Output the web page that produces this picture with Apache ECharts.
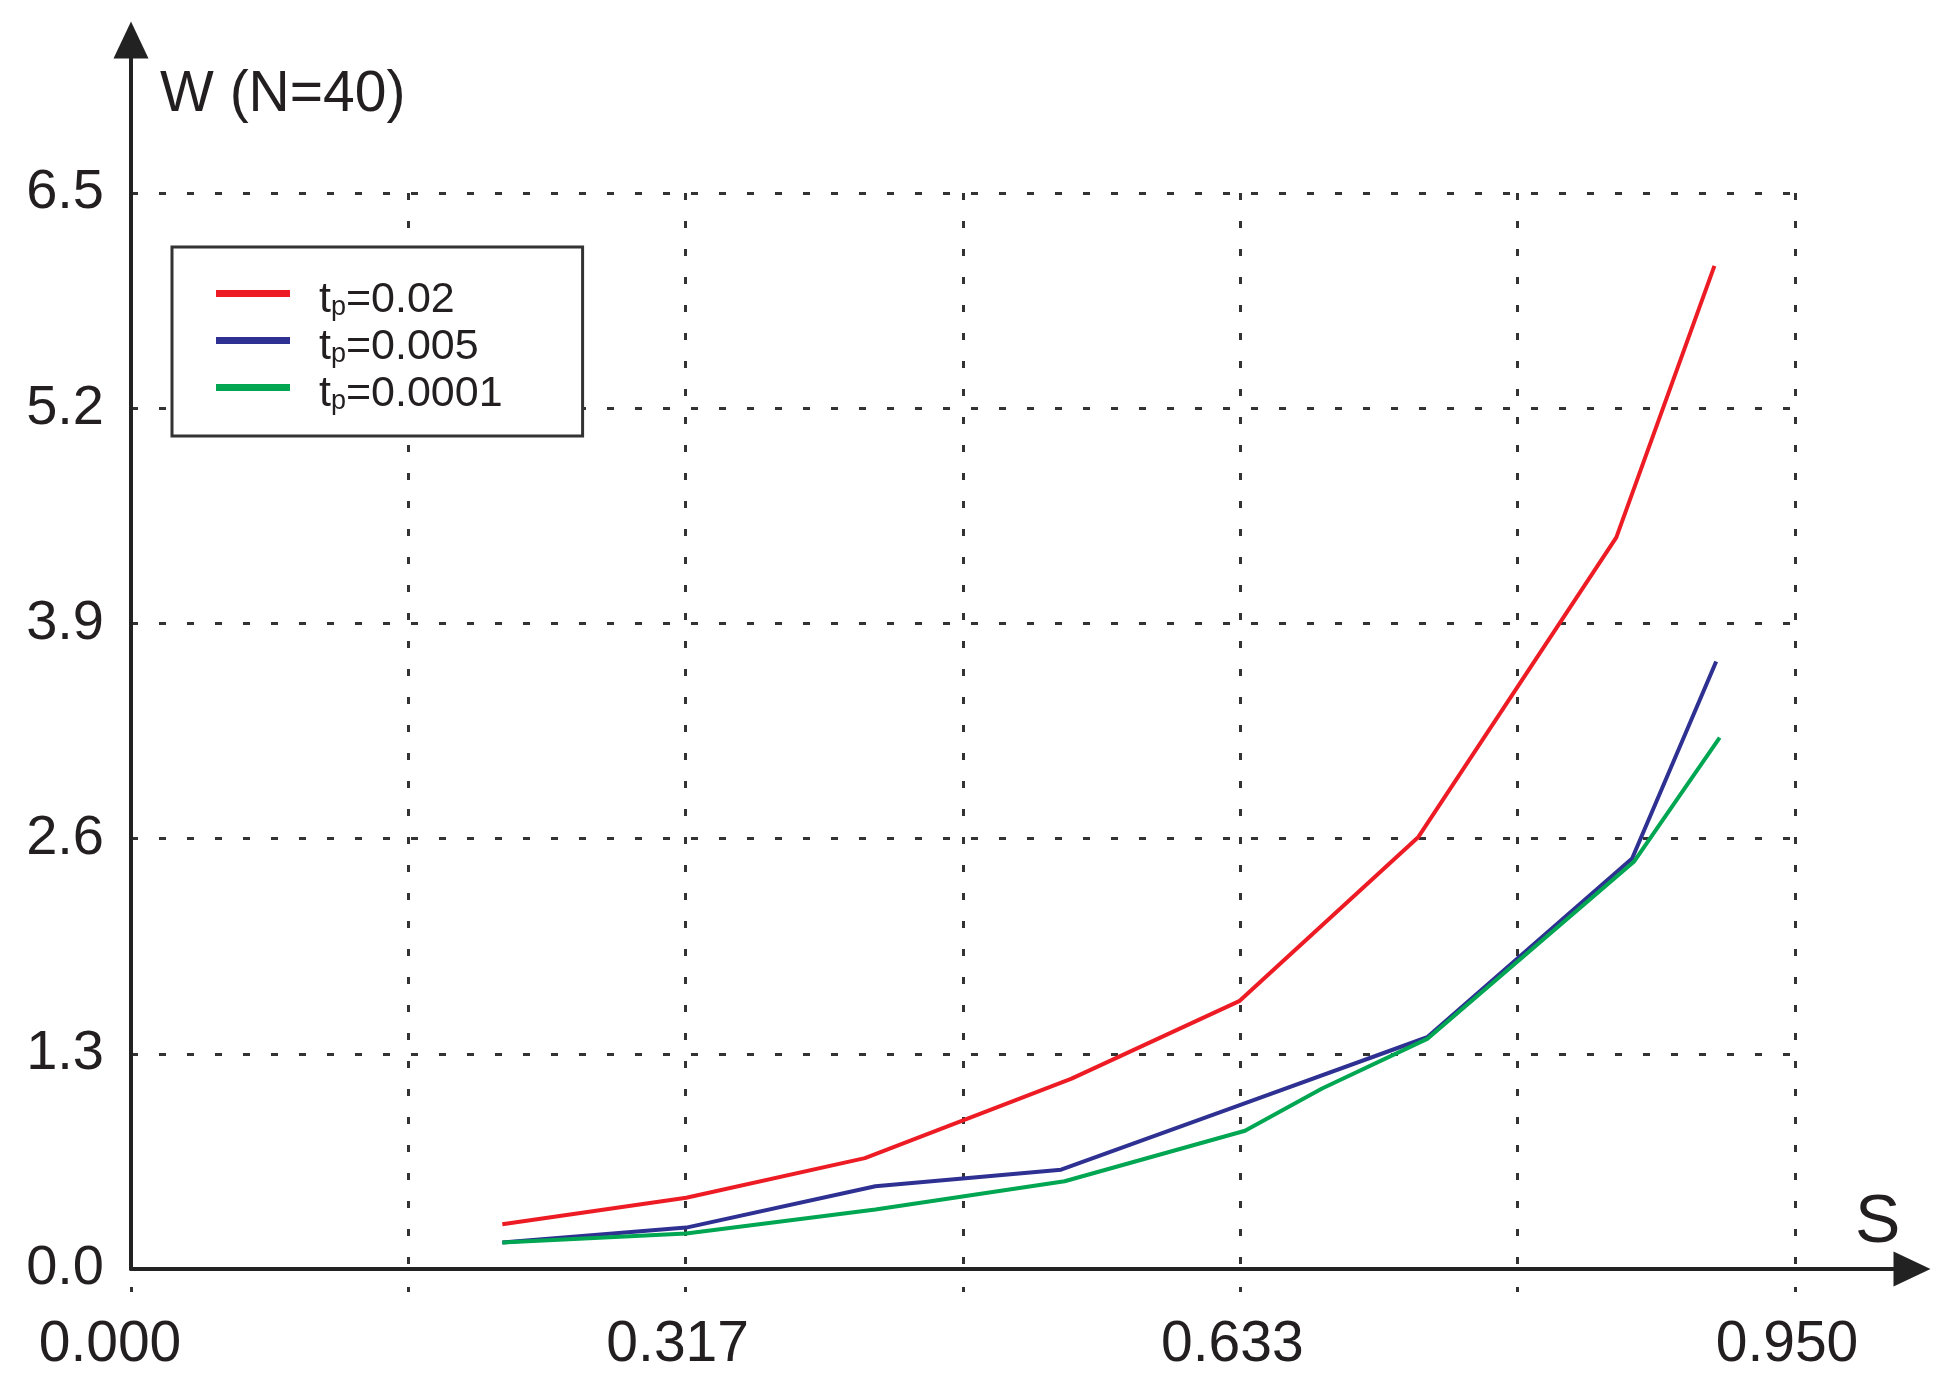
<!DOCTYPE html>
<html>
<head>
<meta charset="utf-8">
<script src="https://cdn.jsdelivr.net/npm/echarts@6/dist/echarts.min.js"></script>
<style>
  html, body { margin: 0; background: #fff; }
  #chart { width: 1957px; height: 1393px; }
</style>
</head>
<body>
<div id="chart"></div>
<script>
// values
const tpValues = ['0.02', '0.005', '0.0001']
const sRed = [0.212, 0.317, 0.419, 0.537, 0.633, 0.735, 0.848, 0.904]
const wRed = [0.27, 0.43, 0.67, 1.15, 1.62, 2.61, 4.42, 6.06]
const sBlue = [0.212, 0.317, 0.425, 0.531, 0.633, 0.740, 0.857, 0.905]
const wBlue = [0.16, 0.25, 0.50, 0.60, 0.99, 1.40, 2.48, 3.67]
const sGreen = [0.212, 0.317, 0.425, 0.533, 0.636, 0.680, 0.740, 0.858, 0.907]
const wGreen = [0.16, 0.215, 0.36, 0.53, 0.835, 1.09, 1.39, 2.46, 3.21]

const xTickLabels = ['0.000', '0.317', '0.633', '0.950']
const yTickLabels = ['0.0', '1.3', '2.6', '3.9', '5.2', '6.5']

const colors = ['#ed1c24', '#2e3192', '#00a651']
const textColor = '#231f20'
const font = 'Liberation Sans, Arial, sans-serif'

const pairs = (xs, ys) => xs.map((x, i) => [x, ys[i]])
const seriesData = [pairs(sRed, wRed), pairs(sBlue, wBlue), pairs(sGreen, wGreen)]

const gridLine = { color: '#333', width: 3, type: [7, 21] }
const xStep = 0.95 / 3

const chart = echarts.init(document.getElementById('chart'))
chart.setOption({
  animation: false,
  backgroundColor: '#fff',
  title: [
    { text: 'W (N=40)', left: 155, top: 62, textStyle: { fontSize: 57, fontWeight: 'normal', color: textColor, fontFamily: font } },
    { text: 'S', left: 1850, top: 1184, textStyle: { fontSize: 68, fontWeight: 'normal', color: textColor, fontFamily: font } }
  ],
  legend: {
    orient: 'vertical',
    left: 172,
    top: 247,
    padding: [32, 80, 20, 44],
    backgroundColor: '#fff',
    borderColor: '#333',
    borderWidth: 3,
    icon: 'rect',
    itemWidth: 74,
    itemHeight: 7,
    itemGap: 4,
    data: tpValues.map(v => 'tp=' + v),
    formatter: name => '{t|t}{p|p}{t|' + name.slice(2) + '}',
    textStyle: {
      // top padding nudges the text a little below the legend line
      padding: [14, 0, 0, 24],
      rich: {
        t: { fontSize: 43, lineHeight: 41, color: textColor, fontFamily: font },
        p: { fontSize: 27, lineHeight: 26, verticalAlign: 'bottom', color: textColor, fontFamily: font }
      }
    }
  },
  grid: [
    { left: 131, top: 193, width: 1664, height: 1076 },
    { left: 131, top: 40, width: 1781, height: 1229 }
  ],
  xAxis: [
    {
      type: 'value', gridIndex: 0, min: 0, max: 0.95, interval: 0.95 / 6,
      axisLine: { show: false },
      axisTick: { show: true, length: 24, lineStyle: { color: '#333', width: 3, type: [0, 18, 5, 30] } },
      axisLabel: {
        fontSize: 57, color: textColor, fontFamily: font, margin: 48, padding: [0, 16, 0, 0],
        formatter: v => {
          const i = Math.round(v / xStep)
          if (Math.abs(v - i * xStep) > 1e-6) return ''
          return i === 0 ? '{first|' + xTickLabels[i] + '}' : xTickLabels[i]
        },
        rich: {
          first: { fontSize: 57, color: textColor, fontFamily: font, padding: [0, 26, 0, 0] }
        }
      },
      splitLine: { show: true, showMinLine: false, lineStyle: gridLine }
    },
    {
      type: 'value', gridIndex: 1, min: 0, max: 1,
      axisLine: { show: true, symbol: ['none', 'triangle'], symbolSize: [35, 37], lineStyle: { color: '#222', width: 4 } },
      axisTick: { show: false },
      axisLabel: { show: false },
      splitLine: { show: false }
    }
  ],
  yAxis: [
    {
      type: 'value', gridIndex: 0, min: 0, max: 6.5, interval: 1.3,
      axisLine: { show: false },
      axisTick: { show: false },
      axisLabel: {
        fontSize: 56, color: textColor, fontFamily: font, margin: 27,
        formatter: v => yTickLabels[Math.round(v / 1.3)]
      },
      splitLine: { show: true, showMinLine: false, lineStyle: gridLine }
    },
    {
      type: 'value', gridIndex: 1, min: 0, max: 1,
      axisLine: { show: true, symbol: ['none', 'triangle'], symbolSize: [35, 37], lineStyle: { color: '#222', width: 4 } },
      axisTick: { show: false },
      axisLabel: { show: false },
      splitLine: { show: false }
    }
  ],
  series: seriesData.map((data, i) => ({
    name: 'tp=' + tpValues[i],
    type: 'line',
    xAxisIndex: 0,
    yAxisIndex: 0,
    data: data,
    symbol: 'none',
    itemStyle: { color: colors[i] },
    lineStyle: { color: colors[i], width: 4 }
  }))
})
</script>
</body>
</html>
